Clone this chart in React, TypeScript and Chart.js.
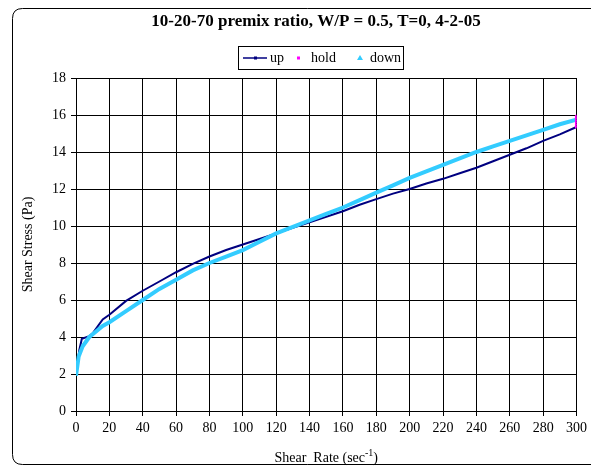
import React, { useEffect, useRef } from "react";
import { Chart, registerables } from "chart.js";
Chart.register(...registerables);

const TITLE = "10-20-70 premix ratio, W/P = 0.5, T=0, 4-2-05";
const X_TITLE = "Shear  Rate (sec";
const X_TITLE_SUP = "-1";
const Y_TITLE = "Shear Stress (Pa)";

const upX = [0, 2, 3.5, 8, 10, 16, 20, 30, 40, 50, 60, 70, 80, 90, 100, 110, 120, 130, 140, 150, 160, 170, 180, 190, 200, 210, 220, 230, 240, 250, 260, 270, 280, 290, 300];
const upY = [2.0, 3.3, 3.9, 4.05, 4.2, 4.95, 5.2, 5.95, 6.5, 7.0, 7.5, 7.95, 8.35, 8.7, 9.0, 9.3, 9.6, 9.9, 10.2, 10.5, 10.8, 11.15, 11.45, 11.75, 12.0, 12.3, 12.55, 12.85, 13.15, 13.5, 13.85, 14.2, 14.6, 14.95, 15.35];

const holdX = [300, 300, 300, 300, 300, 300, 300];
const holdY = [15.35, 15.45, 15.55, 15.65, 15.75, 15.85, 15.93];

const downX = [300, 290, 280, 270, 260, 250, 240, 230, 220, 210, 200, 190, 180, 170, 160, 150, 140, 130, 120, 110, 100, 90, 80, 70, 60, 50, 40, 30, 20, 16, 10, 8, 4, 1.6, 0];
const downY = [15.75, 15.5, 15.2, 14.9, 14.6, 14.3, 14.0, 13.65, 13.3, 12.95, 12.6, 12.2, 11.8, 11.4, 11.0, 10.65, 10.3, 9.95, 9.6, 9.15, 8.7, 8.35, 8.0, 7.6, 7.1, 6.6, 6.0, 5.4, 4.8, 4.6, 4.15, 4.0, 3.5, 2.95, 1.9];

const SERIES = ["up", "hold", "down"];
const COLORS = ["#000080", "#FF00FF", "#33CCFF"];

const X_MIN = 0, X_MAX = 300, X_STEP = 20;
const Y_MIN = 0, Y_MAX = 18, Y_STEP = 2;

const FONT = "'Liberation Serif', 'Times New Roman', serif";

const pts = (xs: number[], ys: number[]) => xs.map((x, i) => ({ x, y: ys[i] }));

const decor = {
  id: "decor",
  beforeDraw(chart: any) {
    const ctx = chart.ctx;
    ctx.save();
    ctx.fillStyle = "#fff";
    ctx.fillRect(0, 0, chart.width, chart.height);
    ctx.restore();
  },
  afterDraw(chart: any) {
    const ctx = chart.ctx;
    const area = chart.chartArea;
    ctx.save();
    // outer rounded border
    ctx.strokeStyle = "#000";
    ctx.lineWidth = 1;
    ctx.beginPath();
    const x0 = 12.5, y0 = 8.5, x1 = 610, y1 = 464.5, r = 10;
    ctx.moveTo(x1, y0);
    ctx.lineTo(x0 + r, y0);
    ctx.quadraticCurveTo(x0, y0, x0, y0 + r);
    ctx.lineTo(x0, y1 - r);
    ctx.quadraticCurveTo(x0, y1, x0 + r, y1);
    ctx.lineTo(x1, y1);
    ctx.stroke();

    // title
    ctx.fillStyle = "#000";
    ctx.font = "bold 17px " + FONT;
    ctx.textAlign = "center";
    ctx.textBaseline = "middle";
    ctx.fillText(TITLE, 316, 22);

    // legend
    const lx = 238.5, ly = 46.5, lw = 165, lh = 23;
    ctx.strokeRect(lx, ly, lw, lh);
    const cy = ly + lh / 2;
    ctx.font = "14px " + FONT;
    ctx.textAlign = "left";
    // up
    ctx.strokeStyle = COLORS[0];
    ctx.lineWidth = 1.5;
    ctx.beginPath();
    ctx.moveTo(243, cy);
    ctx.lineTo(267, cy);
    ctx.stroke();
    ctx.fillStyle = COLORS[0];
    ctx.fillRect(254, cy - 1.5, 3, 3);
    ctx.fillStyle = "#000";
    ctx.fillText(SERIES[0], 270, cy);
    // hold
    ctx.fillStyle = COLORS[1];
    ctx.fillRect(297, cy - 1.5, 3, 3);
    ctx.fillStyle = "#000";
    ctx.fillText(SERIES[1], 311, cy);
    // down
    ctx.fillStyle = COLORS[2];
    ctx.beginPath();
    ctx.moveTo(360, cy - 3);
    ctx.lineTo(363, cy + 2);
    ctx.lineTo(357, cy + 2);
    ctx.closePath();
    ctx.fill();
    ctx.fillStyle = "#000";
    ctx.fillText(SERIES[2], 370, cy);

    // y title
    ctx.font = "14px " + FONT;
    ctx.save();
    ctx.translate(28, (area.top + area.bottom) / 2);
    ctx.rotate(-Math.PI / 2);
    ctx.textAlign = "center";
    ctx.textBaseline = "middle";
    ctx.fillText(Y_TITLE, 0, 0);
    ctx.restore();

    // x title with superscript
    const cx = (area.left + area.right) / 2;
    ctx.font = "14px " + FONT;
    const mainW = ctx.measureText(X_TITLE).width;
    ctx.font = "10px " + FONT;
    const supW = ctx.measureText(X_TITLE_SUP).width;
    ctx.font = "14px " + FONT;
    const closeW = ctx.measureText(")").width;
    const total = mainW + supW + closeW;
    let sx = cx - total / 2;
    const by = 458;
    ctx.textAlign = "left";
    ctx.textBaseline = "middle";
    ctx.fillText(X_TITLE, sx, by);
    sx += mainW;
    ctx.font = "10px " + FONT;
    ctx.fillText(X_TITLE_SUP, sx, by - 5);
    sx += supW;
    ctx.font = "14px " + FONT;
    ctx.fillText(")", sx, by);
    ctx.restore();
  },
};

export default function App() {
  const ref = useRef<HTMLCanvasElement>(null);
  useEffect(() => {
    const chart = new Chart(ref.current as HTMLCanvasElement, {
      type: "scatter",
      data: {
        datasets: [
          {
            label: SERIES[0],
            data: pts(upX, upY),
            showLine: true,
            borderColor: COLORS[0],
            backgroundColor: COLORS[0],
            borderWidth: 2,
            pointRadius: 0,
            order: 2,
          },
          {
            label: SERIES[1],
            data: pts(holdX, holdY),
            showLine: false,
            borderColor: COLORS[1],
            backgroundColor: COLORS[1],
            pointRadius: 1.5,
            pointStyle: "rect",
            order: 0,
          },
          {
            label: SERIES[2],
            data: pts(downX, downY),
            showLine: true,
            borderColor: COLORS[2],
            backgroundColor: COLORS[2],
            borderWidth: 4,
            pointRadius: 0,
            order: 1,
          },
        ],
      },
      options: {
        responsive: false,
        animation: false,
        layout: { padding: { top: 78, right: 14, left: 0, bottom: 0 } },
        plugins: { legend: { display: false }, tooltip: { enabled: false }, title: { display: false } },
        scales: {
          x: {
            type: "linear",
            min: X_MIN,
            max: X_MAX,
            afterFit: (s: any) => { s.height = 56; },
            ticks: { stepSize: X_STEP, color: "#000", font: { family: FONT, size: 14 }, padding: 4, maxRotation: 0 },
            grid: { color: "#000", lineWidth: 1, tickLength: 5, tickColor: "#000" },
            border: { color: "#000" },
          },
          y: {
            min: Y_MIN,
            max: Y_MAX,
            afterFit: (s: any) => { s.width = 76; },
            ticks: { stepSize: Y_STEP, color: "#000", font: { family: FONT, size: 14 }, padding: 5 },
            grid: { color: "#000", lineWidth: 1, tickLength: 5, tickColor: "#000" },
            border: { color: "#000" },
          },
        },
      },
      plugins: [decor],
    });
    return () => chart.destroy();
  }, []);
  return (
    <div style={{ position: "absolute", left: 0, top: 0, width: 591, height: 467 }}>
      <canvas ref={ref} width={591} height={467} />
    </div>
  );
}
